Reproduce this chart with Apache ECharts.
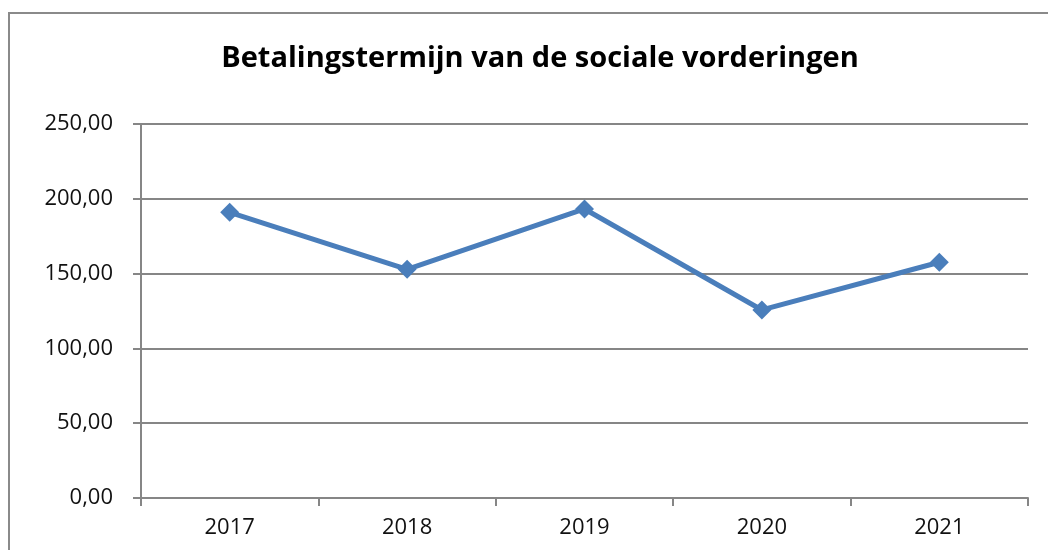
<!DOCTYPE html>
<html>
<head>
<meta charset="utf-8">
<script src="https://cdn.jsdelivr.net/npm/echarts@6/dist/echarts.min.js"></script>
<style>
  html, body { margin: 0; padding: 0; background: #fff; }
  #main { width: 1048px; height: 550px; }
</style>
</head>
<body>
<div id="main"></div>
<script>
// jaren en betalingstermijn (dagen)
var jaren = ['2017', '2018', '2019', '2020', '2021'];
var termijn = [191.0, 152.9, 193.2, 125.7, 157.6];
var yMin = 0, yMax = 250, yStap = 50;

var myChart = echarts.init(document.getElementById('main'));
myChart.setOption({
  animation: false,
  title: {
    text: 'Betalingstermijn van de sociale vorderingen',
    left: 535,
    textAlign: 'center',
    top: 39,
    textStyle: {
      fontFamily: 'Open Sans',
      fontWeight: 'bold',
      fontSize: 29,
      color: '#000'
    }
  },
  graphic: [{
    type: 'rect',
    shape: { x: 9, y: 13, width: 1100, height: 600 },
    style: { fill: 'none', stroke: '#8a8a8a', lineWidth: 2 }
  }],
  grid: { left: 141, right: 20, top: 124, bottom: 52 },
  xAxis: {
    type: 'category',
    data: jaren,
    boundaryGap: true,
    axisLine: { lineStyle: { color: '#868686', width: 2 } },
    axisTick: { show: true, length: 8, lineStyle: { color: '#868686', width: 2 } },
    axisLabel: { color: '#111', fontFamily: 'Open Sans', fontSize: 22, margin: 19 }
  },
  yAxis: {
    type: 'value',
    min: yMin,
    max: yMax,
    interval: yStap,
    axisLine: { show: true, lineStyle: { color: '#868686', width: 2 } },
    axisTick: { show: true, length: 8, lineStyle: { color: '#868686', width: 2 } },
    splitLine: { lineStyle: { color: '#868686', width: 2 } },
    axisLabel: {
      color: '#111', fontFamily: 'Open Sans', fontSize: 22, margin: 28,
      formatter: function (v) { return v.toFixed(2).replace('.', ','); }
    }
  },
  series: [{
    type: 'line',
    data: termijn,
    symbol: 'diamond',
    symbolSize: 19,
    lineStyle: { color: '#4a7ebb', width: 5 },
    itemStyle: { color: '#4a7ebb' }
  }]
});
</script>
</body>
</html>
